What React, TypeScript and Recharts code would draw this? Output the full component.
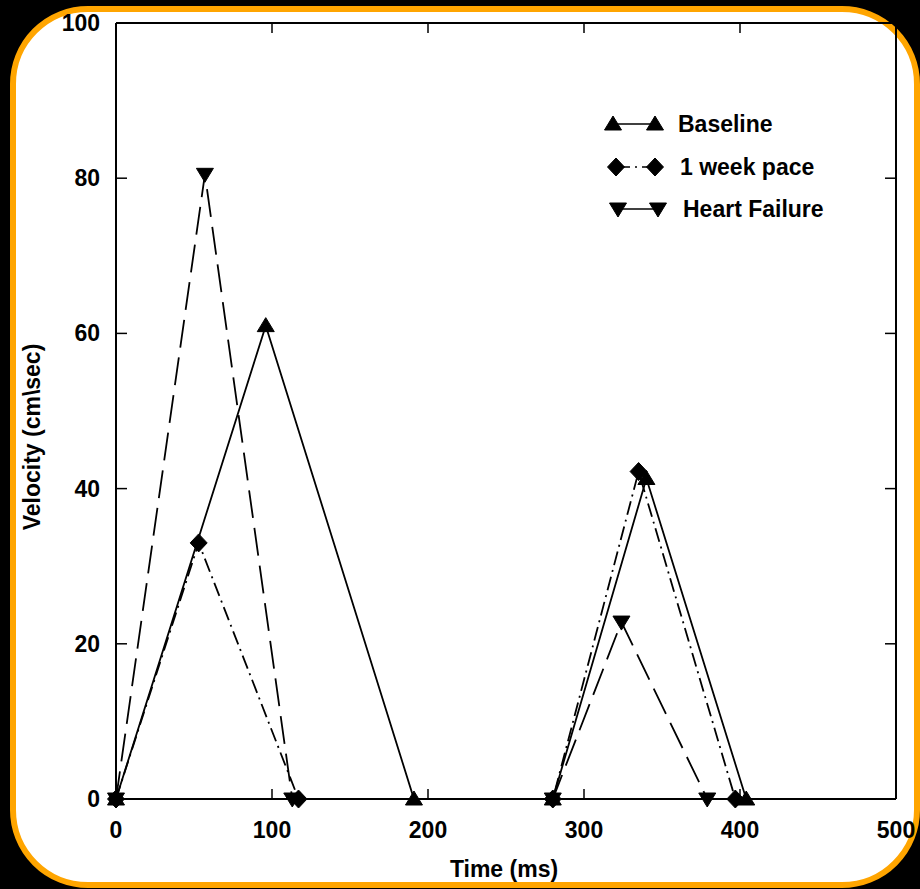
import React from 'react';
import { LineChart, Line, XAxis, YAxis, Legend } from 'recharts';

// ---- data ----
const baselineTime = [0, 96, 191, 280, 340, 404];
const baselineVelocity = [0, 61, 0, 0, 41.3, 0];

const paceTime = [0, 53, 117, 280, 335, 397];
const paceVelocity = [0, 33, 0, 0, 42.2, 0];

const failureTime = [0, 57, 113, 280, 324, 379];
const failureVelocity = [0, 80.5, 0, 0, 22.8, 0];

const xTicks = [0, 100, 200, 300, 400, 500];
const yTicks = [0, 20, 40, 60, 80, 100];

const seriesNames = ['Baseline', '1 week pace', 'Heart Failure'];
const xTitle = 'Time (ms)';
const yTitle = 'Velocity (cm\\sec)';

const zip = (t: number[], v: number[]) => t.map((time, i) => ({ time, velocity: v[i] }));
const baselineData = zip(baselineTime, baselineVelocity);
const paceData = zip(paceTime, paceVelocity);
const failureData = zip(failureTime, failureVelocity);

const FONT = 'Arial, "Liberation Sans", Helvetica, sans-serif';
const INK = '#000';
const PACE_DASH = '14 5 2 5';
const FAIL_DASH = '28 10';

type Kind = 'up' | 'diamond' | 'down';

function Marker({ kind, cx, cy }: { kind: Kind; cx: number; cy: number }) {
  let pts = '';
  if (kind === 'up') pts = `${cx},${cy - 8} ${cx + 8.5},${cy + 6} ${cx - 8.5},${cy + 6}`;
  else if (kind === 'down') pts = `${cx - 8.5},${cy - 6} ${cx + 8.5},${cy - 6} ${cx},${cy + 8}`;
  else pts = `${cx},${cy - 9} ${cx + 8.5},${cy} ${cx},${cy + 9} ${cx - 8.5},${cy}`;
  return <polygon points={pts} fill={INK} stroke={INK} strokeWidth={1} />;
}

const makeDot = (kind: Kind) => (p: any) => (
  <Marker key={`${kind}-${p.index}`} kind={kind} cx={p.cx} cy={p.cy} />
);

const tickText = {
  fontFamily: FONT,
  fontSize: 23,
  fontWeight: 700 as const,
  fill: INK,
};

function BottomTick(props: any) {
  const { x, y, payload } = props;
  return (
    <g>
      <line x1={x} y1={y} x2={x} y2={y - 10} stroke={INK} strokeWidth={1.5} />
      <text x={x} y={y + 39} textAnchor="middle" {...tickText}>{payload.value}</text>
    </g>
  );
}

function TopTick(props: any) {
  const { x, y } = props;
  return <line x1={x} y1={y} x2={x} y2={y + 10} stroke={INK} strokeWidth={1.5} />;
}

function LeftTick(props: any) {
  const { x, y, payload } = props;
  return (
    <g>
      <line x1={x} y1={y} x2={x + 11} y2={y} stroke={INK} strokeWidth={1.5} />
      <text x={x - 16} y={y + 8} textAnchor="end" {...tickText}>{payload.value}</text>
    </g>
  );
}

function RightTick(props: any) {
  const { x, y } = props;
  return <line x1={x} y1={y} x2={x - 11} y2={y} stroke={INK} strokeWidth={1.5} />;
}

function XTitle(props: any) {
  const vb = props.viewBox || {};
  return (
    <text x={vb.x + vb.width / 2 - 2} y={vb.y + 78} textAnchor="middle" {...tickText}>
      {xTitle}
    </text>
  );
}

function YTitle(props: any) {
  const vb = props.viewBox || {};
  const cx = 32;
  const cy = vb.y + vb.height / 2 + 26;
  return (
    <text
      x={cx}
      y={cy}
      transform={`rotate(-90 ${cx} ${cy})`}
      textAnchor="middle"
      dominantBaseline="central"
      {...tickText}
    >
      {yTitle}
    </text>
  );
}

const legendRows: { kind: Kind; dash?: string; m1: number; m2: number; tx: number; y: number }[] = [
  { kind: 'up', m1: 18, m2: 60, tx: 83, y: 24 },
  { kind: 'diamond', dash: PACE_DASH, m1: 21, m2: 60, tx: 85, y: 67 },
  { kind: 'down', m1: 23, m2: 63, tx: 88, y: 109 },
];

function LegendContent() {
  return (
    <svg width={250} height={135} style={{ overflow: 'visible' }}>
      {legendRows.map((r, i) => (
        <g key={i}>
          <line x1={r.m1} y1={r.y} x2={r.m2} y2={r.y} stroke={INK} strokeWidth={1.5} strokeDasharray={r.dash} />
          <Marker kind={r.kind} cx={r.m1} cy={r.y} />
          <Marker kind={r.kind} cx={r.m2} cy={r.y} />
          <text x={r.tx} y={r.y + 8} {...tickText}>{seriesNames[i]}</text>
        </g>
      ))}
    </svg>
  );
}

export default function App() {
  return (
    <div style={{ position: 'absolute', left: 0, top: 0, width: 920, height: 889, background: '#000', overflow: 'hidden' }}>
      <div
        style={{
          position: 'absolute',
          left: 10,
          top: 6,
          width: 910,
          height: 882,
          boxSizing: 'border-box',
          border: '6px solid #FFA500',
          borderRadius: 78,
          background: '#fff',
        }}
      />
      <div style={{ position: 'absolute', left: 0, top: 0 }}>
        <LineChart width={920} height={889} margin={{ top: 22, right: 23, bottom: 30, left: 56 }}>
          <XAxis
            dataKey="time"
            type="number"
            domain={[0, 500]}
            ticks={xTicks}
            interval={0}
            tickSize={0}
            tickMargin={0}
            tickLine={false}
            tick={<BottomTick />}
            axisLine={{ stroke: INK, strokeWidth: 2 }}
            height={60}
            label={<XTitle />}
          />
          <XAxis
            xAxisId="top"
            orientation="top"
            dataKey="time"
            type="number"
            domain={[0, 500]}
            ticks={xTicks}
            interval={0}
            tickSize={0}
            tickMargin={0}
            tickLine={false}
            tick={<TopTick />}
            axisLine={{ stroke: INK, strokeWidth: 2 }}
            height={1}
          />
          <YAxis
            type="number"
            domain={[0, 100]}
            ticks={yTicks}
            interval={0}
            tickSize={0}
            tickMargin={0}
            tickLine={false}
            tick={<LeftTick />}
            axisLine={{ stroke: INK, strokeWidth: 2 }}
            width={60}
            label={<YTitle />}
          />
          <YAxis
            yAxisId="right"
            orientation="right"
            type="number"
            domain={[0, 100]}
            ticks={yTicks}
            interval={0}
            tickSize={0}
            tickMargin={0}
            tickLine={false}
            tick={<RightTick />}
            axisLine={{ stroke: INK, strokeWidth: 2 }}
            width={1}
          />
          <Legend
            layout="vertical"
            align="center"
            verticalAlign="middle"
            content={<LegendContent />}
            wrapperStyle={{ position: 'absolute', left: 595, top: 100, width: 250, height: 135 }}
          />
          <Line
            xAxisId="top"
            yAxisId="right"
            data={baselineData}
            dataKey="velocity"
            stroke="none"
            dot={false}
            activeDot={false}
            legendType="none"
            isAnimationActive={false}
          />
          <Line
            data={baselineData}
            dataKey="velocity"
            name={seriesNames[0]}
            stroke={INK}
            strokeWidth={1.8}
            dot={makeDot('up')}
            activeDot={false}
            isAnimationActive={false}
          />
          <Line
            data={paceData}
            dataKey="velocity"
            name={seriesNames[1]}
            stroke={INK}
            strokeWidth={1.8}
            strokeDasharray={PACE_DASH}
            dot={makeDot('diamond')}
            activeDot={false}
            isAnimationActive={false}
          />
          <Line
            data={failureData}
            dataKey="velocity"
            name={seriesNames[2]}
            stroke={INK}
            strokeWidth={1.8}
            strokeDasharray={FAIL_DASH}
            dot={makeDot('down')}
            activeDot={false}
            isAnimationActive={false}
          />
        </LineChart>
      </div>
    </div>
  );
}
